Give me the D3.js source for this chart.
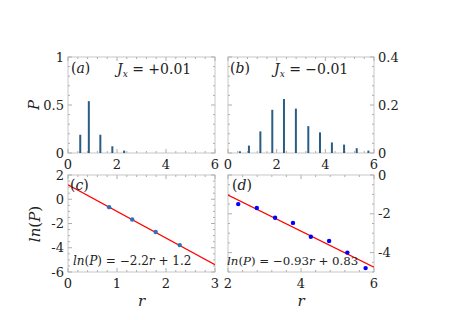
<!DOCTYPE html>
<html><head><meta charset="utf-8">
<script src="https://cdn.jsdelivr.net/npm/d3@7"></script>
<style>body{margin:0;background:#fff}</style>
</head><body><svg id="c" width="457" height="320"></svg>
<script>
// ---- data ----
const rA = [0.5, 0.85, 1.32, 1.81, 2.29];
const pA = [0.19, 0.54, 0.19, 0.07, 0.025];
const rB = [0.49, 0.86, 1.33, 1.82, 2.3, 2.79, 3.3, 3.78, 4.27, 4.77, 5.29, 5.77];
const pB = [0.007, 0.031, 0.09, 0.18, 0.225, 0.185, 0.112, 0.086, 0.044, 0.035, 0.02, 0.01];
const rC = [0.84, 1.31, 1.79, 2.28];
const lnC = [-0.65, -1.67, -2.7, -3.78];
const rD = [2.28, 2.79, 3.29, 3.78, 4.27, 4.77, 5.27, 5.77];
const lnD = [-1.5, -1.7, -2.2, -2.47, -3.18, -3.4, -4.0, -4.8];
const fitC = [-2.2, 1.2];
const fitD = [-0.93, 0.83];
const ticksAx = [0, 2, 4, 6], ticksAy = [0, 0.5, 1], ticksAyLab = ["0", "0.5", "1"];
const ticksBy = [0, 0.2, 0.4], ticksByLab = ["0", "0.2", "0.4"];
const ticksCx = [0, 1, 2, 3], ticksCy = [2, 0, -2, -4, -6];
const ticksDx = [2, 4, 6], ticksDy = [0, -2, -4];

const FONT = "DejaVu Serif";
const svg = d3.select("#c");
const L1 = 68, R1 = 215, L2 = 228, R2 = 374, T1 = 57, B1 = 153, T2 = 175, B2 = 272;

function panel(x0, x1, y0, y1, xd, yd, xt, yt, yLab, ySide, xMinor, yMinor) {
  const x = d3.scaleLinear().domain(xd).range([x0, x1]);
  const y = d3.scaleLinear().domain(yd).range([y1, y0]);
  const g = svg.append("g");
  const id = "clip" + Math.round(x0) + Math.round(y0);
  g.append("clipPath").attr("id", id).append("rect").attr("x", x0).attr("y", y0).attr("width", x1 - x0).attr("height", y1 - y0);
  const gx = d3.range(xd[0], xd[1] + 1e-9, xMinor), gy = d3.range(Math.min(...yd), Math.max(...yd) + 1e-9, yMinor);
  gx.forEach(v => {
    const X = x(v), major = xt.some(t => Math.abs(t - v) < 1e-6), len = major ? 4 : 2;
    g.append("line").attr("x1", X).attr("x2", X).attr("y1", y1).attr("y2", y1 - len).attr("stroke", "#777").attr("stroke-width", 0.6);
    g.append("line").attr("x1", X).attr("x2", X).attr("y1", y0).attr("y2", y0 + len).attr("stroke", "#777").attr("stroke-width", 0.6);
  });
  gy.forEach(v => {
    const Y = y(v), major = yt.some(t => Math.abs(t - v) < 1e-6), len = major ? 4 : 2;
    g.append("line").attr("x1", x0).attr("x2", x0 + len).attr("y1", Y).attr("y2", Y).attr("stroke", "#777").attr("stroke-width", 0.6);
    g.append("line").attr("x1", x1).attr("x2", x1 - len).attr("y1", Y).attr("y2", Y).attr("stroke", "#777").attr("stroke-width", 0.6);
  });
  g.append("rect").attr("x", x0).attr("y", y0).attr("width", x1 - x0).attr("height", y1 - y0)
    .attr("fill", "none").attr("stroke", "#b8b8b8").attr("stroke-width", 0.8);
  xt.forEach(v => g.append("text").style("font-family", FONT).attr("fill", "#222").attr("x", x(v)).attr("y", y1 + 16).attr("text-anchor", "middle").attr("font-size", 13).text(String(v)));
  yt.forEach((v, i) => g.append("text").style("font-family", FONT).attr("fill", "#222").attr("x", ySide === "left" ? x0 - 4 : x1 + 4).attr("y", y(v) + 4.5)
    .attr("text-anchor", ySide === "left" ? "end" : "start").attr("font-size", 13).text(yLab ? yLab[i] : String(v)));
  return {x, y, g, id};
}

const a = panel(L1, R1, T1, B1, [0, 6], [0, 1], ticksAx, ticksAy, ticksAyLab, "left", 0.4, 0.1);
a.g.selectAll(".bar").data(rA).enter().append("line").attr("x1", d => a.x(d)).attr("x2", d => a.x(d))
  .attr("y1", a.y(0)).attr("y2", (d, i) => a.y(pA[i])).attr("stroke", "#2a5d84").attr("stroke-width", 2);
const b = panel(L2, R2, T1, B1, [0, 6], [0, 0.4], ticksAx, ticksBy, ticksByLab, "right", 0.4, 0.04);
b.g.selectAll(".bar").data(rB).enter().append("line").attr("x1", d => b.x(d)).attr("x2", d => b.x(d))
  .attr("y1", b.y(0)).attr("y2", (d, i) => b.y(pB[i])).attr("stroke", "#2a5d84").attr("stroke-width", 2);
const c = panel(L1, R1, T2, B2, [0, 3], [-6, 2], ticksCx, ticksCy, null, "left", 0.2, 0.5);
c.g.append("line").attr("clip-path", `url(#${c.id})`).attr("x1", c.x(0)).attr("x2", c.x(3))
  .attr("y1", c.y(fitC[1])).attr("y2", c.y(fitC[0] * 3 + fitC[1])).attr("stroke", "#ff0000").attr("stroke-width", 1.3);
c.g.selectAll(".pt").data(rC).enter().append("circle").attr("cx", d => c.x(d)).attr("cy", (d, i) => c.y(lnC[i]))
  .attr("r", 2.2).attr("fill", "#2f6fc0");
const dd = panel(L2, R2, T2, B2, [2, 6], [-5, 0], ticksDx, ticksDy, null, "right", 0.4, 0.5);
dd.g.append("line").attr("clip-path", `url(#${dd.id})`).attr("x1", dd.x(2)).attr("x2", dd.x(6))
  .attr("y1", dd.y(fitD[0] * 2 + fitD[1])).attr("y2", dd.y(fitD[0] * 6 + fitD[1])).attr("stroke", "#ff0000").attr("stroke-width", 1.3);
dd.g.selectAll(".pt").data(rD).enter().append("circle").attr("cx", d => dd.x(d)).attr("cy", (d, i) => dd.y(lnD[i]))
  .attr("r", 2.2).attr("fill", "#0000ff");

function label(x, y, html, size) {
  svg.append("text").style("font-family", FONT).attr("fill", "#222").attr("x", x).attr("y", y).attr("font-size", size).html(html);
}
label(71, 73, '(<tspan font-style="italic">a</tspan>)', 14);
label(117, 74, '<tspan font-style="italic">J</tspan><tspan font-style="italic" font-size="9" dy="3">x</tspan><tspan dy="-3"> = +0.01</tspan>', 14);
label(230, 73, '(<tspan font-style="italic">b</tspan>)', 14);
label(274, 74, '<tspan font-style="italic">J</tspan><tspan font-style="italic" font-size="9" dy="3">x</tspan><tspan dy="-3"> = −0.01</tspan>', 14);
label(70, 190, '(<tspan font-style="italic">c</tspan>)', 14);
label(232, 190, '(<tspan font-style="italic">d</tspan>)', 14);
label(73, 265, '<tspan font-style="italic">ln</tspan>(<tspan font-style="italic">P</tspan>) = −2.2<tspan font-style="italic">r</tspan> + 1.2', 12);
label(227, 265, '<tspan font-style="italic">ln</tspan>(<tspan font-style="italic">P</tspan>) = −0.93<tspan font-style="italic">r</tspan> + 0.83', 11.8);

svg.append("text").style("font-family", FONT).attr("fill", "#222").attr("transform", "translate(39,105) rotate(-90)").attr("text-anchor", "middle").attr("font-size", 15).attr("font-style", "italic").text("P");
svg.append("text").style("font-family", FONT).attr("fill", "#222").attr("transform", "translate(40,224) rotate(-90)").attr("text-anchor", "middle").attr("font-size", 15)
  .html('<tspan font-style="italic">ln</tspan>(<tspan font-style="italic">P</tspan>)');
svg.append("text").style("font-family", FONT).attr("fill", "#222").attr("x", (L1 + R1) / 2).attr("y", 306).attr("text-anchor", "middle").attr("font-size", 15).attr("font-style", "italic").text("r");
svg.append("text").style("font-family", FONT).attr("fill", "#222").attr("x", (L2 + R2) / 2).attr("y", 306).attr("text-anchor", "middle").attr("font-size", 15).attr("font-style", "italic").text("r");
</script></body></html>
